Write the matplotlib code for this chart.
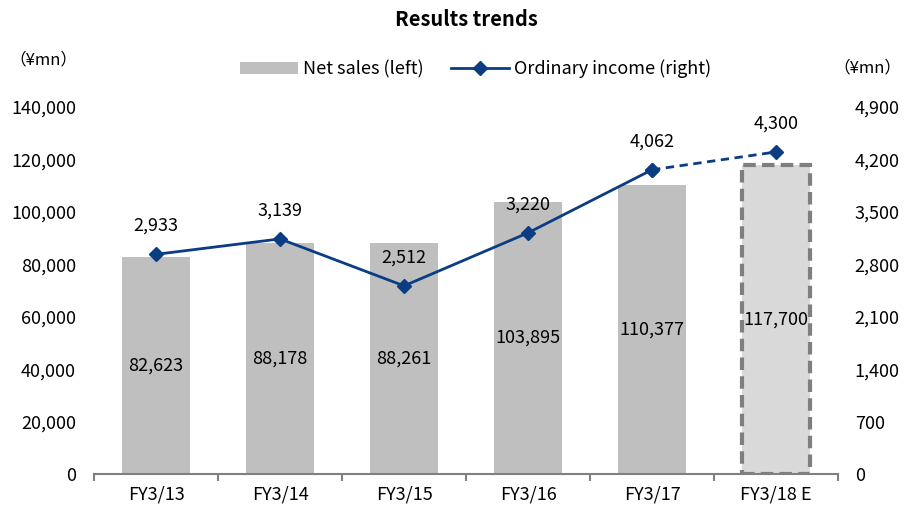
import matplotlib.pyplot as plt
import numpy as np

plt.rcParams['font.family'] = ['Noto Sans CJK JP', 'DejaVu Sans']

years = ['FY3/13', 'FY3/14', 'FY3/15', 'FY3/16', 'FY3/17', 'FY3/18 E']
net_sales = [82623, 88178, 88261, 103895, 110377, 117700]
ordinary_income = [2933, 3139, 2512, 3220, 4062, 4300]

left_ticks = [0, 20000, 40000, 60000, 80000, 100000, 120000, 140000]
right_ticks = [0, 700, 1400, 2100, 2800, 3500, 4200, 4900]

bar_color = '#BFBFBF'
est_color = '#D9D9D9'
line_color = '#0B3D82'

fig = plt.figure(figsize=(9.06, 5.11), dpi=100)
ax = fig.add_axes([0.1038, 0.0724, 0.8212, 0.7182])
ax2 = ax.twinx()

x = np.arange(len(years))

# bars: actuals solid, forecast with dashed outline
ax.bar(x[:-1], net_sales[:-1], width=0.55, color=bar_color, zorder=2,
       label='Net sales (left)')
ax.bar(x[-1], net_sales[-1], width=0.55, color=est_color, edgecolor='#7F7F7F',
       linewidth=3, linestyle=(0, (3, 1.5)), zorder=2)

for xi, v in zip(x, net_sales):
    ax.text(xi, v / 2, f'{v:,}', ha='center', va='center', fontsize=13,
            color='black', zorder=5)

ax.set_xlim(-0.5, len(years) - 0.5)
ax.set_ylim(0, 140000)
ax.set_yticks(left_ticks)
ax.set_yticklabels([f'{t:,}' for t in left_ticks])
ax.set_xticks(x)
ax.set_xticklabels(years)
ax.set_xticks(np.arange(-0.5, len(years)), minor=True)
ax.tick_params(axis='x', which='major', length=0, labelsize=13, pad=8)
ax.tick_params(axis='x', which='minor', length=5, width=1.5, color='#808080',
               direction='out')
ax.tick_params(axis='y', length=0, labelsize=13, pad=13)

# income line: solid actuals, dashed to forecast
ax2.plot(x[:-1], ordinary_income[:-1], color=line_color, linewidth=2,
         marker='D', markersize=7, zorder=4, label='Ordinary income (right)')
ax2.plot(x[-2:], ordinary_income[-2:], color=line_color, linewidth=2,
         linestyle=(0, (3, 2)), marker='D', markersize=7, zorder=4)

for xi, v in zip(x, ordinary_income):
    ax2.annotate(f'{v:,}', (xi, v), xytext=(0, 14), textcoords='offset points',
                 ha='center', va='bottom', fontsize=13)

ax2.set_ylim(0, 4900)
ax2.set_yticks(right_ticks)
ax2.set_yticklabels([f'{t:,}' for t in right_ticks])
ax2.tick_params(axis='y', length=0, labelsize=13, pad=12)

for a in (ax, ax2):
    for s in ('top', 'left', 'right'):
        a.spines[s].set_visible(False)
ax.spines['bottom'].set_color('#808080')
ax.spines['bottom'].set_linewidth(1.5)
ax2.spines['bottom'].set_visible(False)

h1, l1 = ax.get_legend_handles_labels()
h2, l2 = ax2.get_legend_handles_labels()
fig.legend(h1 + h2, l1 + l2, loc='center', bbox_to_anchor=(0.525, 0.865),
           ncol=2, frameon=False, fontsize=13, handlelength=3.2,
           handletextpad=0.3, columnspacing=1.5)

fig.text(0.515, 0.962, 'Results trends', ha='center', va='center',
         fontsize=14.5, fontweight='bold')
fig.text(0.01, 0.882, '（¥mn）', ha='left', va='center', fontsize=12)
fig.text(0.995, 0.867, '（¥mn）', ha='right', va='center', fontsize=12)

fig.savefig('out.png', dpi=100)
